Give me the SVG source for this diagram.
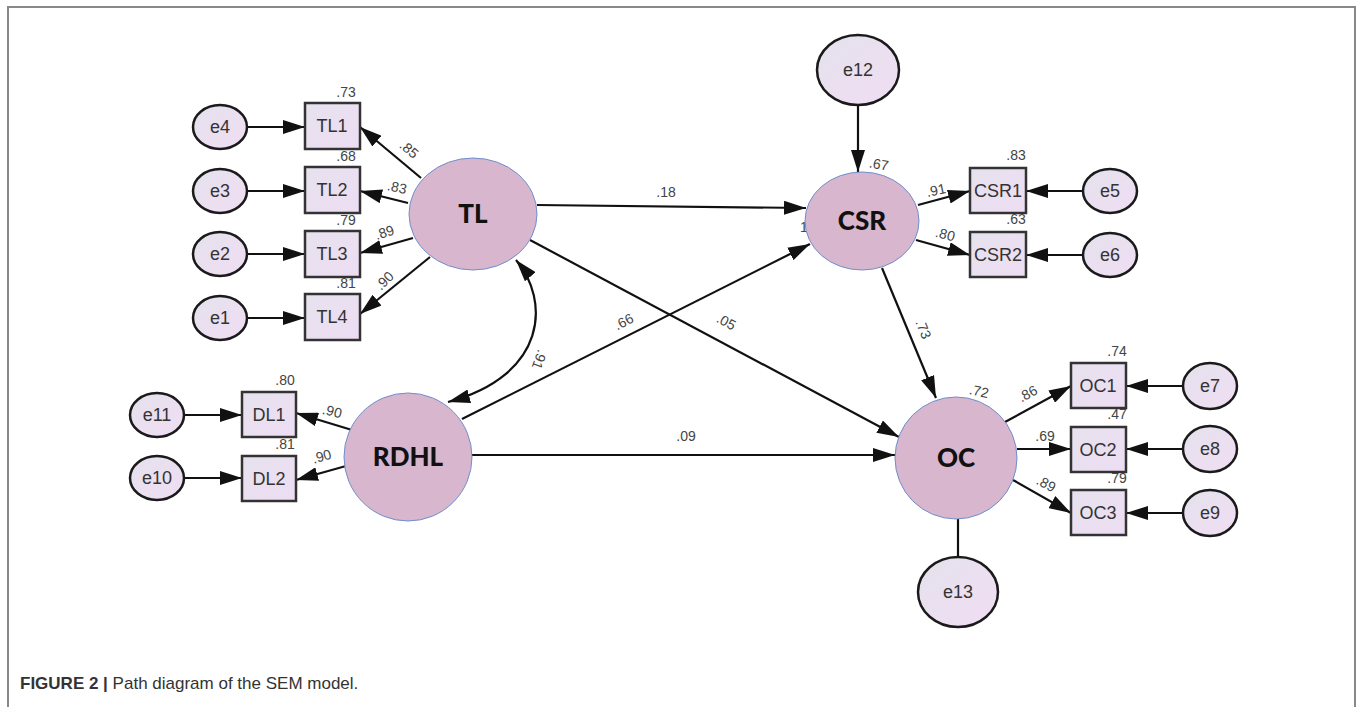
<svg xmlns="http://www.w3.org/2000/svg" width="1360" height="707" viewBox="0 0 1360 707">
  <defs>
    <linearGradient id="errFill" x1="0" y1="0" x2="1" y2="1">
      <stop offset="0" stop-color="#E4E2EC"/>
      <stop offset="1" stop-color="#F1DDF4"/>
    </linearGradient>
    <linearGradient id="boxFill" x1="0" y1="0" x2="1" y2="1">
      <stop offset="0" stop-color="#E6E2EE"/>
      <stop offset="1" stop-color="#EEDDF3"/>
    </linearGradient>
    <marker id="ah" viewBox="0 0 22 14" refX="22" refY="7" markerWidth="22" markerHeight="14" markerUnits="userSpaceOnUse" orient="auto-start-reverse">
      <path d="M0,0 L22,7 L0,14 z" fill="#111"/>
    </marker>
    <style>
      .frame { fill: none; stroke: #888; stroke-width: 2; }
      .latent { fill: #D8B6CE; stroke: #6F8FCC; stroke-width: 1; }
      .err { fill: url(#errFill); stroke: #1a1a1a; stroke-width: 2.5; }
      .box { fill: url(#boxFill); stroke: #333; stroke-width: 2.5; }
      .edge { fill: none; stroke: #111; stroke-width: 2.2; }
      .arr { marker-end: url(#ah); }
      .latlbl { font-family: Lato, "Liberation Sans", sans-serif; font-weight: 900; font-size: 26px; fill: #111; text-anchor: middle; }
      .obs { font-family: "Liberation Sans", Arial, sans-serif; font-size: 18px; fill: #333; text-anchor: middle; }
      .errlbl { font-family: "Liberation Sans", Arial, sans-serif; font-size: 18px; fill: #333; text-anchor: middle; }
      .num { font-family: "Liberation Sans", Arial, sans-serif; font-size: 14px; fill: #444; text-anchor: middle; }
      .cap { font-family: "Liberation Sans", Arial, sans-serif; font-size: 17px; fill: #333; }
    </style>
  </defs>

  <!-- outer frame (open at the bottom) -->
  <path class="frame" d="M8,707 V7 H1355 V707"/>

  <!-- connectors -->
  <g id="connectors">
    <!-- TL indicators -->
    <line class="edge arr" x1="421" y1="178" x2="360" y2="127"/>
    <line class="edge arr" x1="408" y1="203" x2="360" y2="191"/>
    <line class="edge arr" x1="413" y1="238" x2="360" y2="253"/>
    <line class="edge arr" x1="430" y1="257" x2="360" y2="314"/>
    <line class="edge arr" x1="247" y1="127" x2="305" y2="127"/>
    <line class="edge arr" x1="247" y1="191" x2="305" y2="191"/>
    <line class="edge arr" x1="247" y1="254" x2="305" y2="254"/>
    <line class="edge arr" x1="247" y1="318" x2="305" y2="318"/>
    <!-- RDHL indicators -->
    <line class="edge arr" x1="352" y1="430" x2="296" y2="413"/>
    <line class="edge arr" x1="346" y1="466" x2="296" y2="480"/>
    <line class="edge arr" x1="184" y1="415" x2="242" y2="415"/>
    <line class="edge arr" x1="184" y1="478" x2="242" y2="478"/>
    <!-- CSR indicators -->
    <line class="edge arr" x1="858" y1="105" x2="858" y2="172"/>
    <line class="edge arr" x1="918" y1="205" x2="970" y2="191"/>
    <line class="edge arr" x1="916" y1="240" x2="970" y2="255"/>
    <line class="edge arr" x1="1083" y1="191" x2="1026" y2="191"/>
    <line class="edge arr" x1="1083" y1="255" x2="1026" y2="255"/>
    <!-- OC indicators -->
    <line class="edge arr" x1="1005" y1="422" x2="1071" y2="386"/>
    <line class="edge arr" x1="1017" y1="449" x2="1071" y2="449"/>
    <line class="edge arr" x1="1013" y1="480" x2="1071" y2="513"/>
    <line class="edge arr" x1="1183" y1="386" x2="1126" y2="386"/>
    <line class="edge arr" x1="1183" y1="449" x2="1126" y2="449"/>
    <line class="edge arr" x1="1183" y1="513" x2="1126" y2="513"/>
    <line class="edge" x1="958" y1="519" x2="958" y2="557"/>
    <!-- structural paths -->
    <line class="edge arr" x1="537" y1="205" x2="806" y2="208"/>
    <line class="edge arr" x1="530" y1="240" x2="899" y2="437"/>
    <line class="edge arr" x1="462" y1="419" x2="810" y2="244"/>
    <line class="edge arr" x1="472" y1="455" x2="895" y2="455"/>
    <line class="edge arr" x1="882" y1="268" x2="936" y2="398"/>
    <!-- covariance TL <-> RDHL -->
    <path class="edge" d="M516,260 C550,300 548,375 448,402" marker-start="url(#ah)" marker-end="url(#ah)"/>
  </g>

  <!-- partially hidden path-constraint label -->
  <text class="num" x="804" y="232">1</text>

  <!-- latent variables -->
  <g id="node-TL">
    <ellipse class="latent" cx="473" cy="214" rx="64" ry="56"/>
    <text class="latlbl" x="473" y="223">TL</text>
  </g>
  <g id="node-CSR">
    <ellipse class="latent" cx="862" cy="221" rx="57" ry="49"/>
    <text class="latlbl" x="862" y="230">CSR</text>
  </g>
  <g id="node-RDHL">
    <circle class="latent" cx="408" cy="457" r="64"/>
    <text class="latlbl" x="408" y="466">RDHL</text>
  </g>
  <g id="node-OC">
    <circle class="latent" cx="956" cy="458" r="61"/>
    <text class="latlbl" x="956" y="467">OC</text>
  </g>

  <!-- TL indicators -->
  <g id="node-TL1"><rect class="box" x="305" y="103" width="55" height="46"/><text class="obs" x="332" y="132">TL1</text></g>
  <g id="node-TL2"><rect class="box" x="305" y="167" width="55" height="46"/><text class="obs" x="332" y="196">TL2</text></g>
  <g id="node-TL3"><rect class="box" x="305" y="231" width="55" height="46"/><text class="obs" x="332" y="260">TL3</text></g>
  <g id="node-TL4"><rect class="box" x="305" y="294" width="55" height="46"/><text class="obs" x="332" y="323">TL4</text></g>

  <g id="node-e4"><ellipse class="err" cx="220" cy="127" rx="27" ry="22"/><text class="errlbl" x="220" y="133">e4</text></g>
  <g id="node-e3"><ellipse class="err" cx="220" cy="191" rx="27" ry="22"/><text class="errlbl" x="220" y="197">e3</text></g>
  <g id="node-e2"><ellipse class="err" cx="220" cy="254" rx="27" ry="22"/><text class="errlbl" x="220" y="260">e2</text></g>
  <g id="node-e1"><ellipse class="err" cx="220" cy="318" rx="27" ry="22"/><text class="errlbl" x="220" y="324">e1</text></g>

  <!-- RDHL indicators -->
  <g id="node-DL1"><rect class="box" x="242" y="392" width="54" height="45"/><text class="obs" x="269" y="421">DL1</text></g>
  <g id="node-DL2"><rect class="box" x="242" y="456" width="54" height="45"/><text class="obs" x="269" y="485">DL2</text></g>
  <g id="node-e11"><ellipse class="err" cx="157" cy="415" rx="27" ry="22"/><text class="errlbl" x="157" y="421">e11</text></g>
  <g id="node-e10"><ellipse class="err" cx="157" cy="478" rx="27" ry="22"/><text class="errlbl" x="157" y="484">e10</text></g>

  <!-- CSR indicators -->
  <g id="node-e12"><ellipse class="err" cx="858" cy="70" rx="41" ry="35"/><text class="errlbl" x="858" y="76">e12</text></g>
  <g id="node-CSR1"><rect class="box" x="970" y="168" width="56" height="45"/><text class="obs" x="998" y="197">CSR1</text></g>
  <g id="node-CSR2"><rect class="box" x="970" y="232" width="56" height="45"/><text class="obs" x="998" y="261">CSR2</text></g>
  <g id="node-e5"><ellipse class="err" cx="1110" cy="191" rx="27" ry="22"/><text class="errlbl" x="1110" y="197">e5</text></g>
  <g id="node-e6"><ellipse class="err" cx="1110" cy="255" rx="27" ry="22"/><text class="errlbl" x="1110" y="261">e6</text></g>

  <!-- OC indicators -->
  <g id="node-OC1"><rect class="box" x="1071" y="363" width="55" height="45"/><text class="obs" x="1098" y="392">OC1</text></g>
  <g id="node-OC2"><rect class="box" x="1071" y="427" width="55" height="45"/><text class="obs" x="1098" y="456">OC2</text></g>
  <g id="node-OC3"><rect class="box" x="1071" y="490" width="55" height="45"/><text class="obs" x="1098" y="519">OC3</text></g>
  <g id="node-e7"><ellipse class="err" cx="1210" cy="386" rx="27" ry="23"/><text class="errlbl" x="1210" y="392">e7</text></g>
  <g id="node-e8"><ellipse class="err" cx="1210" cy="449" rx="27" ry="23"/><text class="errlbl" x="1210" y="455">e8</text></g>
  <g id="node-e9"><ellipse class="err" cx="1210" cy="513" rx="27" ry="23"/><text class="errlbl" x="1210" y="519">e9</text></g>
  <g id="node-e13"><ellipse class="err" cx="958" cy="592" rx="40" ry="35"/><text class="errlbl" x="958" y="598">e13</text></g>

  <!-- squared multiple correlations -->
  <g id="r-squared">
    <text class="num" x="346" y="97">.73</text>
    <text class="num" x="346" y="161">.68</text>
    <text class="num" x="346" y="225">.79</text>
    <text class="num" x="346" y="288">.81</text>
    <text class="num" x="285" y="385">.80</text>
    <text class="num" x="285" y="449">.81</text>
    <text class="num" x="1016" y="160">.83</text>
    <text class="num" x="1016" y="224">.63</text>
    <text class="num" x="1117" y="356">.74</text>
    <text class="num" x="1117" y="419">.47</text>
    <text class="num" x="1117" y="483">.79</text>
    <text class="num" transform="translate(878,169) rotate(10)">.67</text>
    <text class="num" transform="translate(978,396) rotate(12)">.72</text>
  </g>

  <!-- path coefficients -->
  <g id="coefficients">
    <text class="num" transform="translate(406,153) rotate(40)">.85</text>
    <text class="num" transform="translate(396,192) rotate(12)">.83</text>
    <text class="num" transform="translate(386,237) rotate(-18)">.89</text>
    <text class="num" transform="translate(388,284) rotate(-45)">.90</text>
    <text class="num" transform="translate(331,416) rotate(14)">.90</text>
    <text class="num" transform="translate(323,461) rotate(-16)">.90</text>
    <text class="num" transform="translate(937,195) rotate(-12)">.91</text>
    <text class="num" transform="translate(944,239) rotate(15)">.80</text>
    <text class="num" transform="translate(1030,398) rotate(-28)">.86</text>
    <text class="num" x="1045" y="441">.69</text>
    <text class="num" transform="translate(1044,488) rotate(27)">.89</text>
    <text class="num" x="666" y="197">.18</text>
    <text class="num" transform="translate(724,326) rotate(28)">.05</text>
    <text class="num" transform="translate(626,326) rotate(-27)">.66</text>
    <text class="num" x="686" y="441">.09</text>
    <text class="num" transform="translate(919,331) rotate(68)">.73</text>
    <text class="num" transform="translate(535,358) rotate(110)">.91</text>
  </g>

  <!-- caption -->
  <text class="cap" x="20" y="689"><tspan font-weight="bold">FIGURE 2 |</tspan> Path diagram of the SEM model.</text>
</svg>
